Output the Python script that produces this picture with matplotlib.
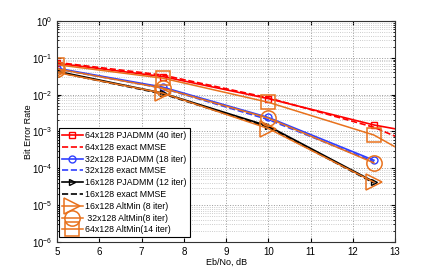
import matplotlib
matplotlib.use('Agg')
import matplotlib.pyplot as plt
import numpy as np

plt.rcParams['font.family'] = ['Liberation Sans', 'DejaVu Sans']
plt.rcParams['mathtext.fontset'] = 'custom'
plt.rcParams['mathtext.rm'] = 'Liberation Sans'

# SNR points (dB)
snr = [5, 7.5, 10, 12.5, 15]
snr4 = [5, 7.5, 10, 12.5]

# 64x128
pjadmm64 = [0.071, 0.031, 0.0078, 0.0015, 4.5e-4]
mmse64 = [0.075, 0.034, 0.0082, 0.0013, 8.0e-5]
altmin64 = [0.065, 0.028, 0.0062, 8.0e-4, 2.0e-5]
# 32x128
pjadmm32 = [0.052, 0.016, 0.0024, 1.65e-4]
mmse32 = [0.050, 0.015, 0.0021, 1.5e-4]
altmin32 = [0.050, 0.015, 0.0023, 1.4e-4]
# 16x128
pjadmm16 = [0.043, 0.011, 0.0014, 4.3e-5]
mmse16 = [0.041, 0.0105, 0.0013, 4.0e-5]
altmin16 = [0.040, 0.011, 0.0012, 4.2e-5]

orange = '#e8711c'

fig = plt.figure(figsize=(4.36, 2.73), dpi=100)
ax = fig.add_axes([0.131, 0.114, 0.775, 0.809])

ax.semilogy(snr, pjadmm64, '-s', color='r', lw=1.2, ms=4.5, mfc='none', mew=1.0,
            label='64x128 PJADMM (40 iter)')
ax.semilogy(snr, mmse64, '--', color='r', lw=1.2, label='64x128 exact MMSE')
ax.semilogy(snr4, pjadmm32, '-o', color='#3040ff', lw=1.2, ms=5, mfc='none', mew=1.0,
            label='32x128 PJADMM (18 iter)')
ax.semilogy(snr4, mmse32, '--', color='#3040ff', lw=1.2, label='32x128 exact MMSE')
ax.semilogy(snr4, pjadmm16, '->', color='k', lw=1.2, ms=5, mfc='none', mew=1.0,
            label='16x128 PJADMM (12 iter)')
ax.semilogy(snr4, mmse16, '--', color='k', lw=1.2, label='16x128 exact MMSE')
ax.semilogy(snr4, altmin16, '->', color=orange, lw=1.1, ms=11, mfc='none', mew=1.1,
            label='16x128 AltMin (8 iter)')
ax.semilogy(snr4, altmin32, '-o', color=orange, lw=1.1, ms=11, mfc='none', mew=1.1,
            label=' 32x128 AltMin(8 iter)')
ax.semilogy(snr, altmin64, '-s', color=orange, lw=1.1, ms=10, mfc='none', mew=1.1,
            label='64x128 AltMin(14 iter)')

ax.set_xlim(5, 13)
ax.set_ylim(1e-6, 1)
ax.set_xticks(range(5, 14))
ax.grid(True, which='major', ls=':', color='#999999', lw=0.7)
ax.grid(True, which='minor', axis='y', ls=':', color='#bbbbbb', lw=0.6)
ax.tick_params(which='both', direction='in', top=True, right=True, labelsize=7)
ax.tick_params(which='major', length=3)
ax.tick_params(which='minor', length=1.5)
for s in ax.spines.values():
    s.set_color('#333333')

ax.set_xlabel('Eb/No, dB', fontsize=6.5, labelpad=1)
ax.set_ylabel('Bit Error Rate', fontsize=6.5, labelpad=-1)

leg = ax.legend(loc='lower left', bbox_to_anchor=(0.006, 0.022), borderaxespad=0,
                fontsize=6.3, handlelength=2.4, labelspacing=0.32, handletextpad=0.3,
                borderpad=0.3, fancybox=False, framealpha=1)
leg.get_frame().set_edgecolor('k')
leg.get_frame().set_linewidth(0.8)

fig.savefig('out.png', dpi=100)
